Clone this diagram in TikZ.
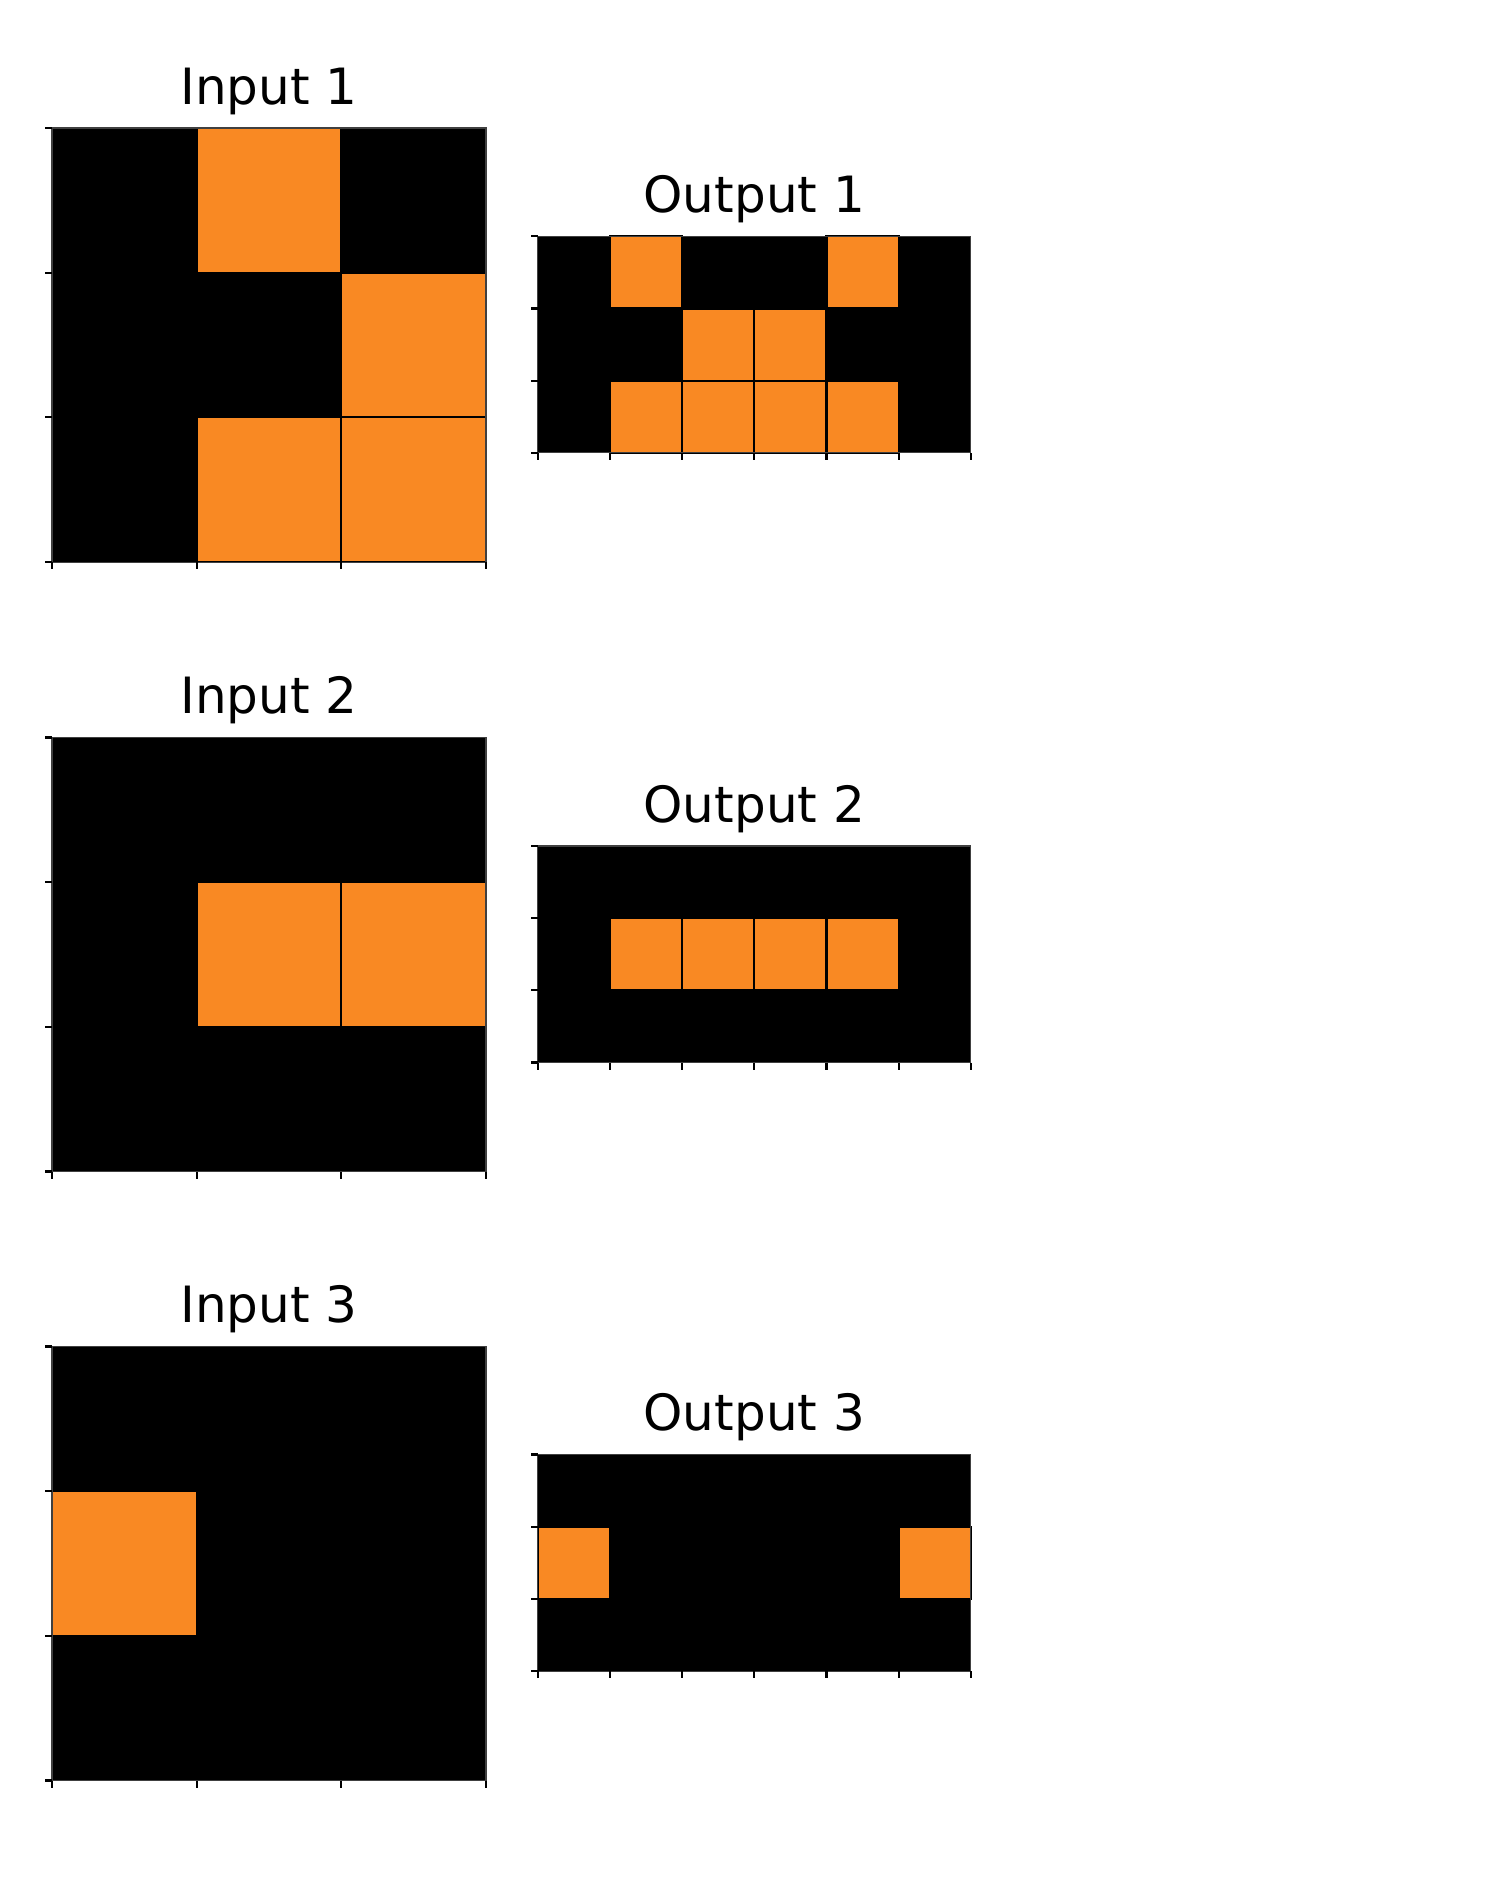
\documentclass[tikz,border=0pt]{standalone}
\usepackage{fontspec}
\setmainfont{DejaVu Sans}
\definecolor{arcorange}{RGB}{249,137,35}
\newcommand\arcpanel[8]{%
  \fill[black] (#2,#3) rectangle ({#2+#5*#4},{#3+#6*#4});
  \foreach \c/\r in {#7} {\filldraw[cellorange] ({#2+\c*#4},{#3+\r*#4}) rectangle ++(#4,#4);}
  \draw[axframe] (#2,#3) rectangle ({#2+#5*#4},{#3+#6*#4});
  \foreach \i in {0,...,#6} {\draw[axtick] (#2,{#3+\i*#4}) -- ++(-7,0);}
  \foreach \j in {0,...,#5} {\draw[axtick] ({#2+\j*#4},{#3+#6*#4}) -- ++(0,7);}
  \node[paneltitle] (#1) at ({#2+#5*#4/2},{#3-24}) {#8};
}
\begin{document}
\begin{tikzpicture}[x=0.24pt,y=-0.24pt,
  cellorange/.style={fill=arcorange,draw=black,line width=0.5pt},
  axframe/.style={line width=0.25pt,black!75},
  axtick/.style={line width=0.5pt,black},
  paneltitle/.style={anchor=base,font=\fontsize{12}{14}\selectfont,inner sep=0pt}]
\useasboundingbox (0,0) rectangle (1500,1890);
% Row 1
\arcpanel{in1}{52}{128}{144.67}{3}{3}{1/0,2/1,1/2,2/2}{Input 1}
\arcpanel{out1}{537.8}{236.3}{72.17}{6}{3}{1/0,4/0,2/1,3/1,1/2,2/2,3/2,4/2}{Output 1}
% Row 2
\arcpanel{in2}{52}{737.5}{144.67}{3}{3}{1/1,2/1}{Input 2}
\arcpanel{out2}{537.8}{846}{72.17}{6}{3}{1/1,2/1,3/1,4/1}{Output 2}
% Row 3
\arcpanel{in3}{52}{1346.5}{144.67}{3}{3}{0/1}{Input 3}
\arcpanel{out3}{537.8}{1454.5}{72.17}{6}{3}{0/1,5/1}{Output 3}
\end{tikzpicture}
\end{document}
